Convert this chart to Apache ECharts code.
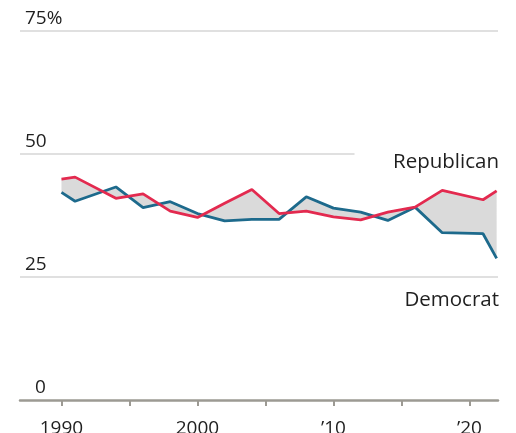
<!DOCTYPE html>
<html>
<head>
<meta charset="utf-8">
<script src="https://cdn.jsdelivr.net/npm/echarts@6/dist/echarts.min.js"></script>
<style>
html,body{margin:0;padding:0;background:#fff;}
#chart{width:516px;height:433px;}
</style>
</head>
<body>
<div id="chart"></div>
<script>
const years = [1990, 1991, 1994, 1996, 1998, 2000, 2002, 2004, 2006, 2008, 2010, 2012, 2014, 2016, 2018, 2021, 2022];
const republican = [44.9, 45.3, 41.0, 41.9, 38.4, 37.1, 40.0, 42.8, 37.9, 38.4, 37.2, 36.6, 38.2, 39.2, 42.6, 40.7, 42.5];
const democrat = [42.2, 40.4, 43.3, 39.1, 40.3, 37.9, 36.4, 36.7, 36.7, 41.3, 39.0, 38.2, 36.5, 39.2, 34.0, 33.8, 28.8];
const yTicks = [0, 25, 50, 75];
const xTicks = [1990, 1995, 2000, 2005, 2010, 2015, 2020];
const xLabels = [1990, 2000, 2010, 2020];
const seriesNames = ['Republican', 'Democrat'];

const FONT = '"Open Sans", "Noto Sans", sans-serif';
const TXT = '#1f1f1f';

const chart = echarts.init(document.getElementById('chart'), null, {renderer: 'canvas'});

const repData = years.map((y, i) => [y, republican[i]]);
const demData = years.map((y, i) => [y, democrat[i]]);

chart.setOption({
  animation: false,
  grid: {left: 20, right: 18, top: 31, bottom: 33, containLabel: false, outerBoundsMode: 'none'},
  xAxis: {
    type: 'value',
    min: 1986.95,
    max: 2022.1,
    axisLine: {show: true, lineStyle: {color: '#9c9a93', width: 2.5}},
    axisTick: {show: true, customValues: xTicks, length: 6, lineStyle: {color: '#9c9a93', width: 2}},
    axisLabel: {
      customValues: xLabels,
      margin: 19,
      color: TXT,
      fontFamily: FONT,
      fontSize: 19,
      formatter: v => (v <= 2000) ? String(v) : '\u2019' + String(v).slice(2)
    },
    splitLine: {show: false}
  },
  yAxis: {
    type: 'value',
    min: 0,
    max: 75,
    interval: 25,
    axisLine: {show: false},
    axisTick: {show: false},
    splitLine: {show: true, lineStyle: {color: ['rgba(0,0,0,0)', '#d6d6d6', 'rgba(0,0,0,0)', '#d6d6d6'], width: 1.5}},
    axisLabel: {
      inside: true,
      margin: 5,
      align: 'left',
      verticalAlign: 'bottom',
      padding: [0, 0, 3, 0],
      color: TXT,
      fontFamily: FONT,
      fontSize: 19,
      formatter: v => v === 75 ? '{n|75%}' : (v === 0 ? '{z|0}' : '{n|' + v + '}'),
      rich: {
        n: {color: TXT, fontFamily: FONT, fontSize: 19},
        z: {color: TXT, fontFamily: FONT, fontSize: 19, padding: [0, 0, 0, 10]}
      }
    }
  },
  graphic: [
    {type: 'text', right: 17, top: 152, style: {text: seriesNames[0], fill: TXT, font: '20.5px ' + FONT, textAlign: 'right'}},
    {type: 'text', right: 17, top: 290, style: {text: seriesNames[1], fill: TXT, font: '20.5px ' + FONT, textAlign: 'right'}}
  ],
  series: [
    {
      type: 'custom',
      z: 1,
      silent: true,
      data: [[years[0], republican[0]]],
      renderItem: function (params, api) {
        const pts = [];
        for (let i = 0; i < years.length; i++) pts.push(api.coord([years[i], republican[i]]));
        for (let i = years.length - 1; i >= 0; i--) pts.push(api.coord([years[i], democrat[i]]));
        return {type: 'polygon', shape: {points: pts}, style: {fill: '#dadada', stroke: null}};
      }
    },
    {
      name: seriesNames[1],
      type: 'line',
      z: 3,
      data: demData,
      symbol: 'none',
      lineStyle: {color: '#1d6a8c', width: 2.8},
      markLine: {
        silent: true,
        symbol: 'none',
        label: {show: false},
        lineStyle: {color: '#d6d6d6', width: 1.5, type: 'solid'},
        data: [[{coord: [1986.95, 50]}, {coord: [2011.55, 50]}]]
      }
    },
    {
      name: seriesNames[0],
      type: 'line',
      z: 4,
      data: repData,
      symbol: 'none',
      lineStyle: {color: '#e32a4f', width: 2.8}
    }
  ]
});
</script>
</body>
</html>
